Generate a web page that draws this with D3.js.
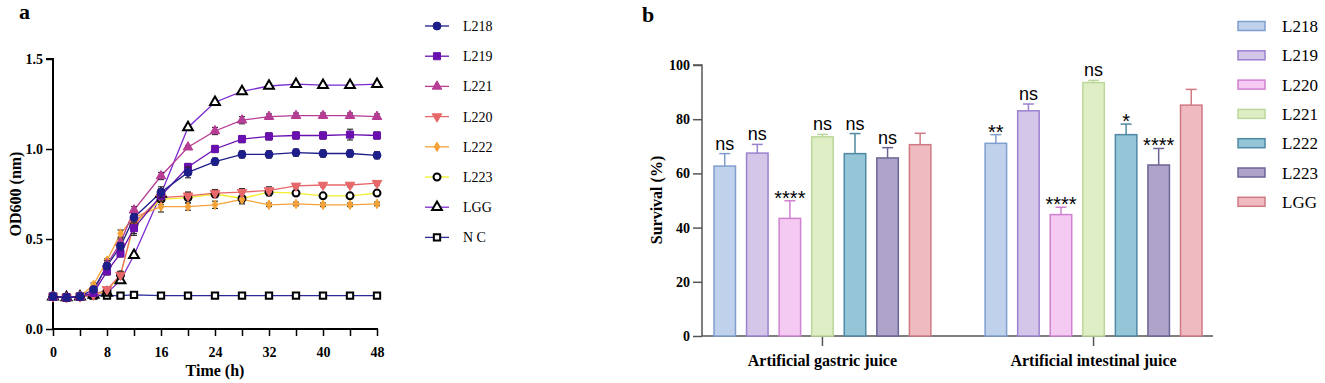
<!DOCTYPE html>
<html>
<head>
<meta charset="utf-8">
<script src="https://cdn.jsdelivr.net/npm/d3@7"></script>
<style>
  body { margin: 0; background: #fff; }
  text { font-family: "Liberation Serif", "Times New Roman", serif; }
</style>
</head>
<body>
<script>
// ---- panel a data: OD600 growth curves ----
const times = [0, 2, 4, 6, 8, 10, 12, 16, 20, 24, 28, 32, 36, 40, 44, 48];
const odL218 = [0.18, 0.175, 0.18, 0.22, 0.35, 0.46, 0.62, 0.76, 0.87, 0.93, 0.97, 0.97, 0.98, 0.975, 0.975, 0.965];
const odL219 = [0.18, 0.175, 0.18, 0.2, 0.32, 0.42, 0.56, 0.74, 0.9, 1.0, 1.055, 1.07, 1.075, 1.075, 1.08, 1.075];
const odL221 = [0.18, 0.175, 0.18, 0.2, 0.36, 0.48, 0.66, 0.85, 1.01, 1.1, 1.16, 1.18, 1.185, 1.185, 1.185, 1.18];
const odL220 = [0.18, 0.175, 0.18, 0.19, 0.22, 0.3, 0.59, 0.73, 0.74, 0.755, 0.76, 0.77, 0.795, 0.8, 0.8, 0.81];
const odL222 = [0.18, 0.175, 0.18, 0.245, 0.38, 0.53, 0.62, 0.68, 0.68, 0.69, 0.72, 0.69, 0.695, 0.69, 0.69, 0.695];
const odL223 = [0.18, 0.175, 0.18, 0.19, 0.21, 0.3, 0.58, 0.72, 0.73, 0.75, 0.725, 0.76, 0.755, 0.74, 0.74, 0.755];
const odLGG  = [0.18, 0.175, 0.18, 0.19, 0.2, 0.27, 0.41, 0.75, 1.12, 1.26, 1.32, 1.35, 1.36, 1.355, 1.355, 1.36];
const odNC   = [0.18, 0.175, 0.18, 0.185, 0.185, 0.185, 0.19, 0.185, 0.185, 0.185, 0.185, 0.185, 0.185, 0.185, 0.185, 0.185];
const errL218 = [0.01, 0.01, 0.01, 0.01, 0.02, 0.02, 0.02, 0.03, 0.03, 0.02, 0.02, 0.02, 0.02, 0.02, 0.02, 0.02];
const errL219 = [0.01, 0.01, 0.01, 0.01, 0.02, 0.02, 0.03, 0.03, 0.02, 0.02, 0.02, 0.02, 0.02, 0.02, 0.03, 0.02];
const errL221 = [0.01, 0.01, 0.01, 0.01, 0.02, 0.02, 0.02, 0.02, 0.01, 0.02, 0.02, 0.015, 0.015, 0.015, 0.015, 0.015];
const errL220 = [0.01, 0.01, 0.01, 0.01, 0.01, 0.02, 0.03, 0.02, 0.02, 0.02, 0.02, 0.02, 0.01, 0.01, 0.01, 0.01];
const errL222 = [0.01, 0.01, 0.01, 0.01, 0.01, 0.02, 0.02, 0.03, 0.02, 0.02, 0.02, 0.01, 0.01, 0.01, 0.01, 0.01];
const errL223 = [0.01, 0.01, 0.01, 0.01, 0.01, 0.02, 0.06, 0.03, 0.03, 0.02, 0.03, 0.02, 0.01, 0.01, 0.01, 0.01];
const errLGG  = [0.01, 0.01, 0.01, 0.01, 0.01, 0.01, 0.01, 0.03, 0.01, 0.01, 0.01, 0.01, 0.01, 0.01, 0.01, 0.01];
const errNC   = [0.01, 0.01, 0.01, 0.005, 0.005, 0.005, 0.005, 0.005, 0.005, 0.005, 0.005, 0.005, 0.005, 0.005, 0.005, 0.005];
const odNames = ["L218", "L219", "L221", "L220", "L222", "L223", "LGG", "N C"];
const xTicks = [0, 8, 16, 24, 32, 40, 48];
const yTicksA = [0, 0.5, 1.0, 1.5];

// ---- panel b data: survival ----
const conditions = ["Artificial gastric juice", "Artificial intestinal juice"];
const strains = ["L218", "L219", "L220", "L221", "L222", "L223", "LGG"];
const survGastric = [62.7, 67.5, 43.4, 73.5, 67.3, 65.7, 70.6];
const survGastricErr = [4.6, 3.2, 6.5, 0.9, 7.4, 3.8, 4.2];
const survIntestinal = [71.1, 83.1, 44.8, 93.5, 74.3, 63.1, 85.2];
const survIntestinalErr = [3.2, 2.5, 2.7, 0.8, 3.9, 6.1, 5.8];
const sigGastric = ["ns", "ns", "****", "ns", "ns", "ns", ""];
const sigIntestinal = ["**", "ns", "****", "ns", "*", "****", ""];
const yTicksB = [0, 20, 40, 60, 80, 100];

const svg = d3.select("body").append("svg")
  .attr("width", 1325).attr("height", 383);

// ================= panel a =================
const odSeries = [
  { name: odNames[0], v: odL218, e: errL218, line: "#1e1e8a", sym: d3.symbolCircle, fill: "#1e1e8a", stroke: "#1e1e8a", size: 50 },
  { name: odNames[1], v: odL219, e: errL219, line: "#6a10b0", sym: d3.symbolSquare, fill: "#6a10b0", stroke: "#6a10b0", size: 50 },
  { name: odNames[2], v: odL221, e: errL221, line: "#b63c94", sym: d3.symbolTriangle, fill: "#b63c94", stroke: "#b63c94", size: 40 },
  { name: odNames[3], v: odL220, e: errL220, line: "#e8686a", sym: d3.symbolTriangle, fill: "#e8686a", stroke: "#e8686a", size: 40, flip: true },
  { name: odNames[4], v: odL222, e: errL222, line: "#f5a238", sym: d3.symbolDiamond, fill: "#f5a238", stroke: "#f5a238", size: 26 },
  { name: odNames[5], v: odL223, e: errL223, line: "#f2ee2a", sym: d3.symbolCircle, fill: "#fff", stroke: "#000", size: 38 },
  { name: odNames[6], v: odLGG, e: errLGG, line: "#7b2bd0", sym: d3.symbolTriangle, fill: "#fff", stroke: "#000", size: 42 },
  { name: odNames[7], v: odNC, e: errNC, line: "#2a2a9c", sym: d3.symbolSquare, fill: "#fff", stroke: "#000", size: 40 }
];

const xA = d3.scaleLinear().domain([0, 48]).range([53, 377]);
const yA = d3.scaleLinear().domain([0, 1.5]).range([329, 59]);
const gA = svg.append("g");

gA.append("g")
  .attr("transform", "translate(0,329)")
  .call(d3.axisBottom(xA).tickValues(d3.range(0, 49, 4)).tickSize(7).tickFormat(d => xTicks.includes(d) ? d : ""))
  .call(g => g.select(".domain").attr("stroke-width", 2).attr("d", "M53,0H378"))
  .call(g => g.selectAll(".tick line").attr("stroke-width", 1.5))
  .call(g => g.selectAll("text").attr("dy", "1.25em").attr("font-size", 14).attr("font-weight", "bold"));

gA.append("g")
  .attr("transform", "translate(53,0)")
  .call(d3.axisLeft(yA).tickValues(yTicksA).tickSize(7).tickFormat(d3.format(".1f")))
  .call(g => g.select(".domain").attr("stroke-width", 2).attr("d", "M0,329V59H-7"))
  .call(g => g.selectAll(".tick line").attr("stroke-width", 1.5))
  .call(g => g.selectAll("text").attr("font-size", 14).attr("font-weight", "bold"));

gA.append("text").attr("x", 215).attr("y", 376).attr("text-anchor", "middle")
  .attr("font-size", 16).attr("font-weight", "bold").text("Time (h)");
gA.append("text").attr("transform", "translate(21,194) rotate(-90)").attr("text-anchor", "middle")
  .attr("font-size", 16).attr("font-weight", "bold").text("OD600 (nm)");
gA.append("text").attr("x", 19).attr("y", 19).attr("font-size", 22).attr("font-weight", "bold").text("a");

const lineA = d3.line().x((d, i) => xA(times[i])).y(d => yA(d));
const drawOrder = [7, 6, 5, 4, 3, 2, 1, 0];

drawOrder.forEach(k => {
  const s = odSeries[k];
  gA.append("path").datum(s.v).attr("fill", "none").attr("stroke", s.line)
    .attr("stroke-width", 1.3).attr("d", lineA);
});
drawOrder.forEach(k => {
  const s = odSeries[k];
  const eg = gA.append("g").attr("stroke", "#222").attr("stroke-width", 1.1);
  s.v.forEach((v, i) => {
    const x = xA(times[i]);
    eg.append("line").attr("x1", x).attr("x2", x).attr("y1", yA(v - s.e[i])).attr("y2", yA(v + s.e[i]));
    eg.append("line").attr("x1", x - 3).attr("x2", x + 3).attr("y1", yA(v + s.e[i])).attr("y2", yA(v + s.e[i]));
    eg.append("line").attr("x1", x - 3).attr("x2", x + 3).attr("y1", yA(v - s.e[i])).attr("y2", yA(v - s.e[i]));
  });
  gA.append("g").selectAll("path").data(s.v).join("path")
    .attr("transform", (d, i) => `translate(${xA(times[i])},${yA(d)})` + (s.flip ? " rotate(180)" : ""))
    .attr("d", d3.symbol().type(s.sym).size(s.size))
    .attr("fill", s.fill).attr("stroke", s.stroke).attr("stroke-width", s.fill === "#fff" ? 2 : 1);
});

// legend a
const legA = gA.append("g");
odSeries.forEach((s, i) => {
  const y = 26 + i * 30.2;
  legA.append("line").attr("x1", 425).attr("x2", 449).attr("y1", y).attr("y2", y)
    .attr("stroke", s.line).attr("stroke-width", 1.3);
  legA.append("path").attr("transform", `translate(437,${y})` + (s.flip ? " rotate(180)" : ""))
    .attr("d", d3.symbol().type(s.sym).size(s.size))
    .attr("fill", s.fill).attr("stroke", s.stroke).attr("stroke-width", s.fill === "#fff" ? 2 : 1);
  legA.append("text").attr("x", 463).attr("y", y + 5).attr("font-size", 14).text(s.name);
});

// ================= panel b =================
const barFill = ["#bfd1eb", "#d3c6e9", "#f4c9f2", "#dfeec4", "#94c6d8", "#aea4c9", "#efbac0"];
const barStroke = ["#7f9fcf", "#9b82cf", "#cf82cf", "#bcd79b", "#4f89a3", "#6d6496", "#cf7a83"];
const survVals = [survGastric, survIntestinal];
const survErrs = [survGastricErr, survIntestinalErr];
const sigs = [sigGastric, sigIntestinal];

const xB = d3.scaleBand().domain(conditions).range([714, 1202]).paddingInner(0.2);
const xInner = d3.scaleBand().domain(strains).range([0, xB.bandwidth()]).paddingInner(0.34);
const yB = d3.scaleLinear().domain([0, 100]).range([336, 65]);
const gB = svg.append("g");

gB.append("g")
  .attr("transform", "translate(702,0)")
  .call(d3.axisLeft(yB).tickValues(yTicksB).tickSize(9))
  .call(g => g.select(".domain").attr("stroke", "#555").attr("stroke-width", 1.5).attr("d", "M0,336V65H-9"))
  .call(g => g.selectAll(".tick line").attr("stroke", "#555").attr("stroke-width", 1.5))
  .call(g => g.selectAll("text").attr("font-size", 14).attr("font-weight", "bold"));

gB.append("g")
  .attr("transform", "translate(0,336)")
  .call(d3.axisBottom(xB).tickSize(10).tickFormat(""))
  .call(g => g.select(".domain").attr("stroke", "#555").attr("stroke-width", 1.5).attr("d", "M702,0H1213"))
  .call(g => g.selectAll(".tick line").attr("stroke", "#555").attr("stroke-width", 1.5));

conditions.forEach(c => {
  gB.append("text").attr("x", xB(c) + xB.bandwidth() / 2).attr("y", 366).attr("text-anchor", "middle")
    .attr("font-size", 16).attr("font-weight", "bold").text(c);
});

gB.append("text").attr("transform", "translate(662,200) rotate(-90)").attr("text-anchor", "middle")
  .attr("font-size", 16).attr("font-weight", "bold").text("Survival (%)");
gB.append("text").attr("x", 642).attr("y", 22).attr("font-size", 22).attr("font-weight", "bold").text("b");

conditions.forEach((c, ci) => {
  strains.forEach((s, si) => {
    const x0 = xB(c) + xInner(s);
    const w = xInner.bandwidth();
    const v = survVals[ci][si];
    const e = survErrs[ci][si];
    const cx = x0 + w / 2;
    gB.append("line").attr("x1", cx).attr("x2", cx).attr("y1", yB(v)).attr("y2", yB(v + e))
      .attr("stroke", barStroke[si]).attr("stroke-width", 1.5);
    gB.append("line").attr("x1", cx - 5.5).attr("x2", cx + 5.5).attr("y1", yB(v + e)).attr("y2", yB(v + e))
      .attr("stroke", barStroke[si]).attr("stroke-width", 1.5);
    gB.append("rect").attr("x", x0).attr("y", yB(v)).attr("width", w).attr("height", yB(0) - yB(v))
      .attr("fill", barFill[si]).attr("stroke", barStroke[si]).attr("stroke-width", 1.5);
    const lab = sigs[ci][si];
    if (lab) {
      const isStar = lab.includes("*");
      gB.append("text").attr("x", cx).attr("y", yB(v + e) - (isStar ? -4 : 4)).attr("text-anchor", "middle")
        .style("font-family", "'Liberation Sans', Arial, sans-serif").attr("font-size", isStar ? 20 : 18).text(lab);
    }
  });
});

// legend b
strains.forEach((s, i) => {
  const y = 26 + i * 29.3;
  gB.append("rect").attr("x", 1238).attr("y", y - 4.5).attr("width", 27).attr("height", 9)
    .attr("fill", barFill[i]).attr("stroke", barStroke[i]).attr("stroke-width", 1.5);
  gB.append("text").attr("x", 1282).attr("y", y + 6).attr("font-size", 17).text(s);
});
</script>
</body>
</html>
